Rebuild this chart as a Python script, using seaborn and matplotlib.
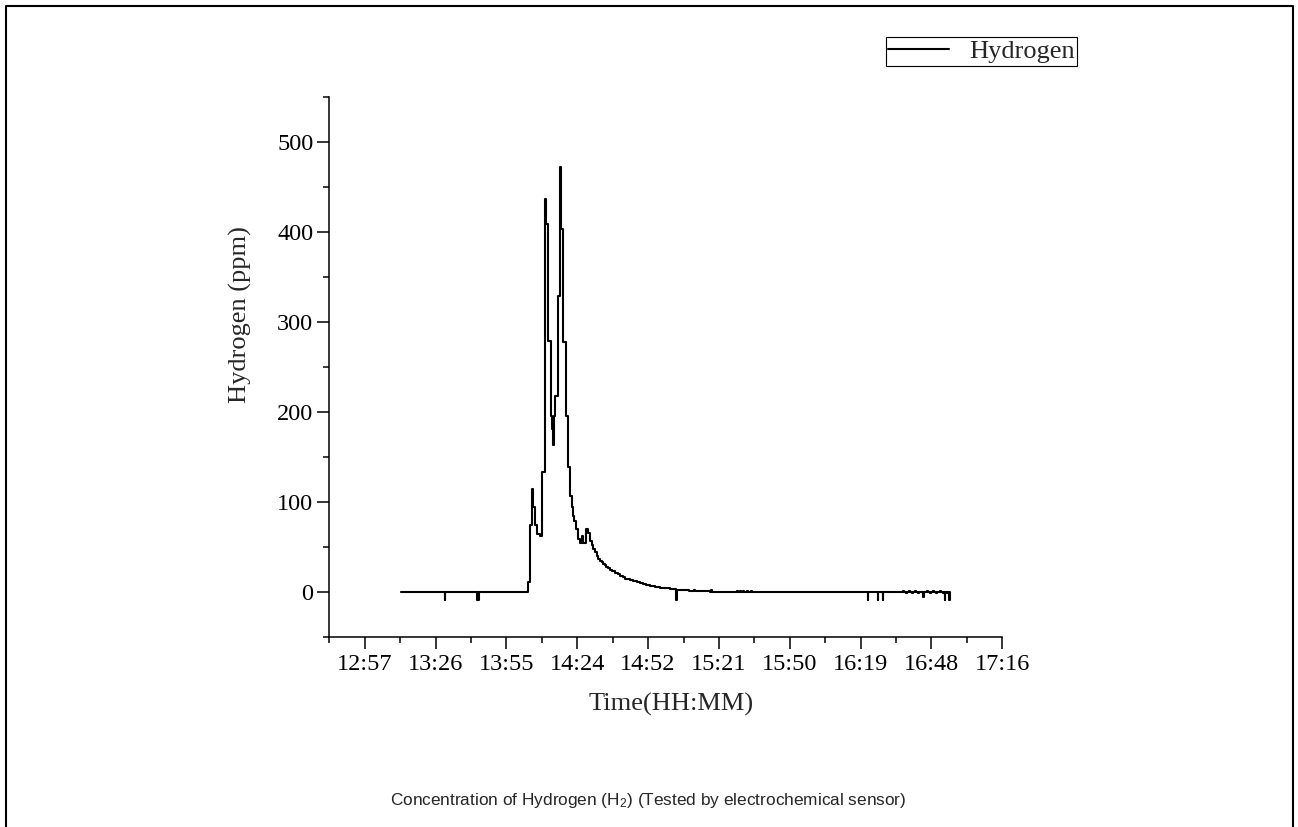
import matplotlib
matplotlib.use("Agg")
import matplotlib.pyplot as plt
import seaborn as sns
import numpy as np
import pandas as pd
from matplotlib.ticker import FixedLocator, MultipleLocator
from matplotlib.lines import Line2D

# ---------------- data (time in minutes after midnight, H2 in ppm) ----------------
time_min = [
    792.4, 810.1, 810.3, 823.2, 823.5, 823.7, 823.9,
    843.9, 844.8, 845.7, 846.2, 846.8, 847.6, 848.9, 849.6,
    850.9, 851.5, 852.2, 853.2, 853.7, 854.3, 854.7, 855.1, 856.3, 857.0,
    857.4, 858.3, 859.3, 860.4, 861.1, 861.8, 862.2, 862.7, 863.5, 864.4,
    865.1, 865.9, 866.5, 867.4, 868.5, 869.2, 869.9, 870.5, 871.2, 871.9,
    872.6, 873.3, 874.0, 874.6, 875.2, 875.7, 876.5, 877.3, 878.3, 879.4,
    880.4, 881.4, 882.4, 883.4, 884.4, 885.5, 886.8, 888.2, 889.5, 890.7,
    892.1, 893.6, 895.6, 897.7, 899.7, 901.7, 903.0, 904.2, 904.4, 906.0,
    907.8, 909.5, 911.1, 911.4, 911.7, 913.9, 916.0, 918.0, 918.3, 918.6,
    922.0, 928.1, 929.0, 929.4, 930.2, 930.6, 931.5, 931.9, 933.0,
    933.4, 934.8, 935.2,
    982.1, 982.3, 986.2, 986.4, 988.2, 988.4,
    996.4, 996.8, 997.5, 997.9, 998.7, 999.1, 1000.0, 1000.4, 1001.2, 1001.6,
    1002.5, 1002.9, 1004.6, 1004.8, 1006.0, 1006.4, 1007.4, 1007.8, 1008.7,
    1009.1, 1010.0, 1010.4, 1011.3, 1011.7, 1012.5, 1012.9, 1013.5, 1013.7,
    1014.4, 1014.8, 1015.3, 1015.5,
]
hydrogen_ppm = [
    0, -9, 0, -9, 0, -9, 0,
    11, 74, 115, 94, 74, 64, 62, 133,
    437, 409, 279, 196, 181, 163, 196, 218, 329, 472,
    403, 278, 196, 139, 107, 94, 85, 79, 70, 59,
    55, 62, 55, 70, 66, 57, 52, 48, 44, 40,
    37, 35, 33, 31, 29.5, 28, 26.5, 25, 23, 21,
    19.5, 18, 16.5, 15, 14, 13, 12, 11, 10, 9,
    8, 7, 6, 5, 4.2, 3.5, 3, -9, 2.5, 2.2,
    2, 1.6, 1, 2.5, 1.5, 1, 0.8, 0.5, 2, 0.5,
    0.3, 0, 1.5, 0, 1.5, 0, 1.5, 0, 1.5,
    0, 1.5, 0,
    -9, 0, -9, 0, -9, 0,
    1.5, 0, -1.5, 0, 1.5, 0, -1.5, 0, 1.5, 0,
    -1.5, 0, -6, 0, 1.5, 0, -1.5, 0, 1.5,
    0, -1.5, 0, 1.5, 0, -1.5, 0, -9, 0,
    -1.5, 0, -9, 0,
]
assert len(time_min) == len(hydrogen_ppm)

xtick_minutes = [777.6, 806.4, 835.2, 864.0, 892.8, 921.6, 950.4, 979.2, 1008.0, 1036.8]
xtick_labels = ["12:57", "13:26", "13:55", "14:24", "14:52",
                "15:21", "15:50", "16:19", "16:48", "17:16"]
series_name = "Hydrogen"

# ---------------- styling ----------------
sns.set_style("ticks")
plt.rcParams["font.family"] = ["Liberation Serif", "DejaVu Serif"]
plt.rcParams["mathtext.fontset"] = "custom"
plt.rcParams["mathtext.rm"] = "Liberation Sans"
plt.rcParams["mathtext.it"] = "Liberation Sans:italic"
plt.rcParams["mathtext.bf"] = "Liberation Sans:bold"

W, H = 1298, 827
fig = plt.figure(figsize=(W / 100, H / 100), dpi=100)
fig.patch.set_facecolor("white")
ax = fig.add_axes([329.3 / W, 1 - 637 / H, 673 / W, 540 / H])
ax.set_facecolor("white")

df = pd.DataFrame({"t": time_min, "v": hydrogen_ppm})
sns.lineplot(data=df, x="t", y="v", ax=ax, color="black", linewidth=1.5,
             drawstyle="steps-post", estimator=None, sort=False,
             label=series_name, legend=False)

sns.despine(ax=ax)
for s in ("left", "bottom"):
    ax.spines[s].set_linewidth(1.1)
    ax.spines[s].set_color("black")

ax.set_xlim(763.2, 1036.8)
ax.set_ylim(-50, 550)
ax.set_xticks(xtick_minutes, labels=xtick_labels)
ax.xaxis.set_minor_locator(FixedLocator(np.arange(763.2, 1037.0, 14.4)))
ax.yaxis.set_major_locator(MultipleLocator(100))
ax.yaxis.set_minor_locator(MultipleLocator(50))

ax.tick_params(which="major", direction="out", length=8.5, width=1.1,
               labelsize=17.5, colors="black")
ax.tick_params(axis="y", which="major", pad=3)
ax.tick_params(axis="x", which="major", pad=4)
ax.tick_params(which="minor", direction="out", length=4, width=1.1, color="black")

ax.set_xlabel("Time(HH:MM)", fontsize=19, va="center")
ax.xaxis.set_label_coords(0.508, (637 - 704) / 540)
ax.set_ylabel("Hydrogen (ppm)", fontsize=19, va="center")
ax.yaxis.set_label_coords((240 - 329.3) / 673, (637 - 315) / 540)

leg = ax.legend(loc="upper right", bbox_to_anchor=(1077 / W, 1 - 37 / H),
                bbox_transform=fig.transFigure, frameon=True, fancybox=False,
                edgecolor="black", framealpha=1, fontsize=19, handlelength=2.3,
                handletextpad=0.75, borderpad=0.1, borderaxespad=0)
leg.get_frame().set_linewidth(0.8)

fig.text(648.5 / W, 1 - 800 / H,
         "Concentration of Hydrogen (H$_2$) (Tested by electrochemical sensor)",
         ha="center", va="center", family="Liberation Sans", fontsize=12.4)

# outer frame (left, top, right)
fig.add_artist(Line2D([6 / W, 6 / W, 1293 / W, 1293 / W],
                      [0, 1 - 6 / H, 1 - 6 / H, 0],
                      transform=fig.transFigure, color="black", linewidth=1.5))

fig.savefig("out.png", dpi=100)
